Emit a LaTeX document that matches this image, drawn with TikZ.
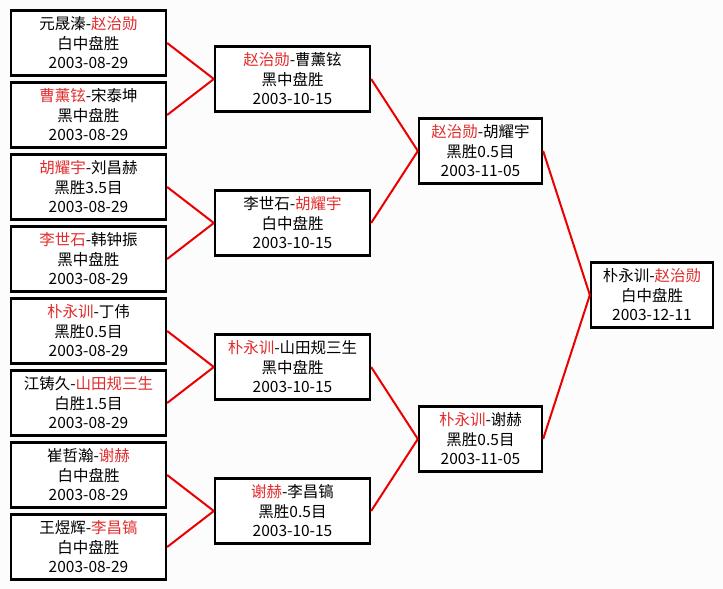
\documentclass[tikz,border=0pt]{standalone}
\usepackage{fontspec}
\setmainfont{Noto Sans CJK SC}
\definecolor{tred}{RGB}{225,45,45}
\definecolor{lred}{RGB}{235,0,0}
\definecolor{bg}{RGB}{252,252,252}
\newcommand{\rd}[1]{\textcolor{tred}{#1}}
\tikzset{
  box/.style={draw=black, line width=2.3pt, fill=white, align=center, inner sep=0pt,
    minimum height=65pt, font=\fontsize{15.5}{19.5}\selectfont},
  wa/.style={box, minimum width=155pt},
  wb/.style={box, minimum width=123pt},
  conn/.style={draw=lred, line width=2pt}
}
\begin{document}
\begin{tikzpicture}[x=1pt,y=1pt]
\fill[bg] (0,0) rectangle (723,-589);
\useasboundingbox (0,0) rectangle (723,-589);
% column 1
\node[wa] (a1) at (88.5,-43) {元晟溱-\rd{赵治勋}\\白中盘胜\\2003-08-29};
\node[wa] (a2) at (88.5,-115) {\rd{曹薰铉}-宋泰坤\\黑中盘胜\\2003-08-29};
\node[wa] (a3) at (88.5,-187) {\rd{胡耀宇}-刘昌赫\\黑胜3.5目\\2003-08-29};
\node[wa] (a4) at (88.5,-259) {\rd{李世石}-韩钟振\\黑中盘胜\\2003-08-29};
\node[wa] (a5) at (88.5,-331) {\rd{朴永训}-丁伟\\黑胜0.5目\\2003-08-29};
\node[wa] (a6) at (88.5,-403) {江铸久-\rd{山田规三生}\\白胜1.5目\\2003-08-29};
\node[wa] (a7) at (88.5,-475) {崔哲瀚-\rd{谢赫}\\白中盘胜\\2003-08-29};
\node[wa] (a8) at (88.5,-547) {王煜辉-\rd{李昌镐}\\白中盘胜\\2003-08-29};
% column 2
\node[wa] (b1) at (292.5,-79) {\rd{赵治勋}-曹薰铉\\黑中盘胜\\2003-10-15};
\node[wa] (b2) at (292.5,-223) {李世石-\rd{胡耀宇}\\白中盘胜\\2003-10-15};
\node[wa] (b3) at (292.5,-367) {\rd{朴永训}-山田规三生\\黑中盘胜\\2003-10-15};
\node[wa] (b4) at (292.5,-511) {\rd{谢赫}-李昌镐\\黑胜0.5目\\2003-10-15};
% column 3
\node[wb] (c1) at (480.5,-151) {\rd{赵治勋}-胡耀宇\\黑胜0.5目\\2003-11-05};
\node[wb] (c2) at (480.5,-439) {\rd{朴永训}-谢赫\\黑胜0.5目\\2003-11-05};
% column 4
\node[wb, minimum width=122pt] (d1) at (652,-295) {朴永训-\rd{赵治勋}\\白中盘胜\\2003-12-11};
% connectors
\draw[conn] (a1.east) -- (b1.west);
\draw[conn] (a2.east) -- (b1.west);
\draw[conn] (a3.east) -- (b2.west);
\draw[conn] (a4.east) -- (b2.west);
\draw[conn] (a5.east) -- (b3.west);
\draw[conn] (a6.east) -- (b3.west);
\draw[conn] (a7.east) -- (b4.west);
\draw[conn] (a8.east) -- (b4.west);
\draw[conn] (b1.east) -- (c1.west);
\draw[conn] (b2.east) -- (c1.west);
\draw[conn] (b3.east) -- (c2.west);
\draw[conn] (b4.east) -- (c2.west);
\draw[conn] (c1.east) -- (d1.west);
\draw[conn] (c2.east) -- (d1.west);
\end{tikzpicture}
\end{document}
